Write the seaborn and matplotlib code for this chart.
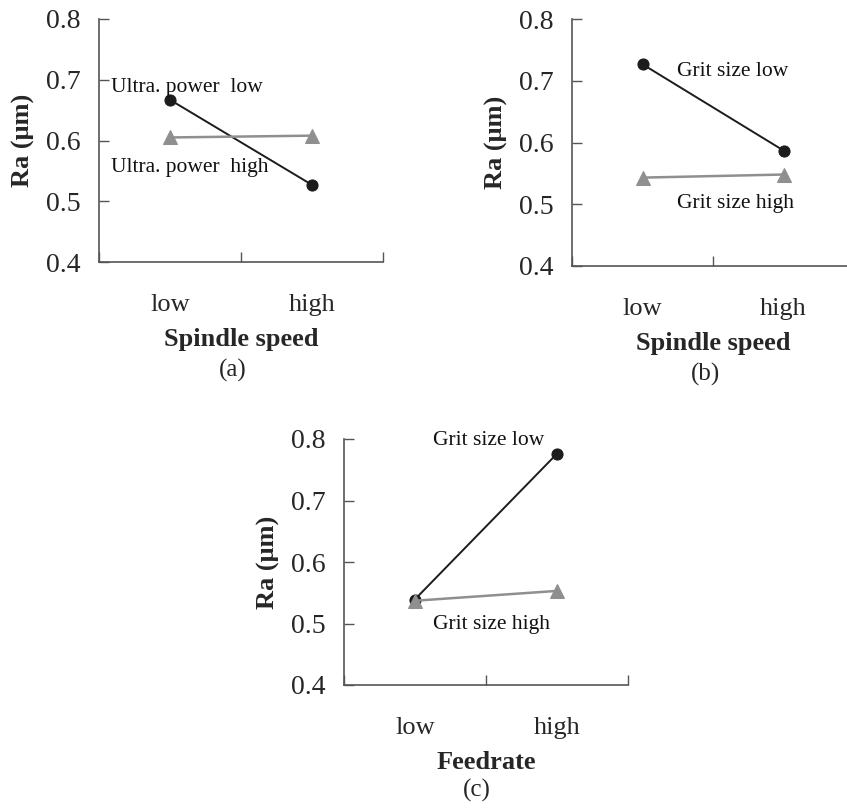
import matplotlib
matplotlib.use("Agg")
import matplotlib.pyplot as plt
import seaborn as sns
import pandas as pd

# ---- data ----
levels = ["low", "high"]
a_ultra_low = [0.667, 0.527]
a_ultra_high = [0.605, 0.608]
b_grit_low = [0.727, 0.587]
b_grit_high = [0.543, 0.548]
c_grit_low = [0.539, 0.776]
c_grit_high = [0.537, 0.553]
y_ticks = [0.4, 0.5, 0.6, 0.7, 0.8]
y_ticklabels = ["0.4", "0.5", "0.6", "0.7", "0.8"]

sns.set_style("ticks")
plt.rcParams["font.family"] = ["Liberation Serif", "DejaVu Serif"]

W, H = 847, 810
fig = plt.figure(figsize=(W / 100, H / 100), dpi=100)

def px_axes(left, top, right, bottom):
    return fig.add_axes([left / W, 1 - bottom / H, (right - left) / W, (bottom - top) / H])

BLACK = "#1c1c1c"
GRAY = "#8f8f8f"
SPINE = "#555555"

panels = [
    dict(box=(99, 19, 383, 262), s1=a_ultra_low, s2=a_ultra_high,
         t1="Ultra. power  low", t2="Ultra. power  high",
         t1pos=(0.042, 0.72), t2pos=(0.042, 0.387),
         xlabel="Spindle speed", cap="(a)", cappos=(233, 370)),
    dict(box=(572, 19.3, 854, 265.7), s1=b_grit_low, s2=b_grit_high,
         t1="Grit size low", t2="Grit size high",
         t1pos=(0.371, 0.79), t2pos=(0.371, 0.254),
         xlabel="Spindle speed", cap="(b)", cappos=(705, 374)),
    dict(box=(343.7, 439, 628, 685), s1=c_grit_low, s2=c_grit_high,
         t1="Grit size low", t2="Grit size high",
         t1pos=(0.315, 0.993), t2pos=(0.315, 0.247),
         xlabel="Feedrate", cap="(c)", cappos=(477, 790)),
]

for p in panels:
    ax = px_axes(*p["box"])
    df1 = pd.DataFrame({"level": levels, "Ra": p["s1"]})
    df2 = pd.DataFrame({"level": levels, "Ra": p["s2"]})
    sns.lineplot(data=df1, x="level", y="Ra", ax=ax, sort=False, color=BLACK,
                 marker="o", markersize=8, markeredgecolor=BLACK, linewidth=1.4,
                 clip_on=False)
    sns.lineplot(data=df2, x="level", y="Ra", ax=ax, sort=False, color=GRAY,
                 marker="^", markersize=10, markeredgecolor=GRAY, linewidth=1.8,
                 clip_on=False)
    ax.set_xlim(-0.5, 1.5)
    ax.set_ylim(0.4, 0.8)
    ax.set_yticks(y_ticks)
    ax.set_yticklabels(y_ticklabels)
    ax.set_xticks([0, 1])
    ax.set_xticklabels(levels)
    ax.set_xticks([-0.5, 0.5, 1.5], minor=True)
    ax.tick_params(axis="x", which="major", length=0, pad=23, labelsize=19)
    ax.tick_params(axis="x", which="minor", length=7, direction="in", color=SPINE, width=1)
    ax.tick_params(axis="y", which="major", length=7, direction="in", color=SPINE,
                   width=1, pad=13, labelsize=20)
    for s in ["top", "right"]:
        ax.spines[s].set_visible(False)
    for s in ["left", "bottom"]:
        ax.spines[s].set_color(SPINE)
        ax.spines[s].set_linewidth(1.2)
    ax.set_xlabel(p["xlabel"], fontsize=19, fontweight="bold", labelpad=9)
    ax.set_ylabel("Ra (μm)", fontsize=19, fontweight="bold", labelpad=8)
    ax.text(*p["t1pos"], p["t1"], transform=ax.transAxes, fontsize=15.5,
            ha="left", va="center", color="#111111")
    ax.text(*p["t2pos"], p["t2"], transform=ax.transAxes, fontsize=15.5,
            ha="left", va="center", color="#111111")
    fig.text(p["cappos"][0] / W, 1 - p["cappos"][1] / H, p["cap"], fontsize=18,
             ha="center", va="center")

fig.savefig("out.png", dpi=100)
